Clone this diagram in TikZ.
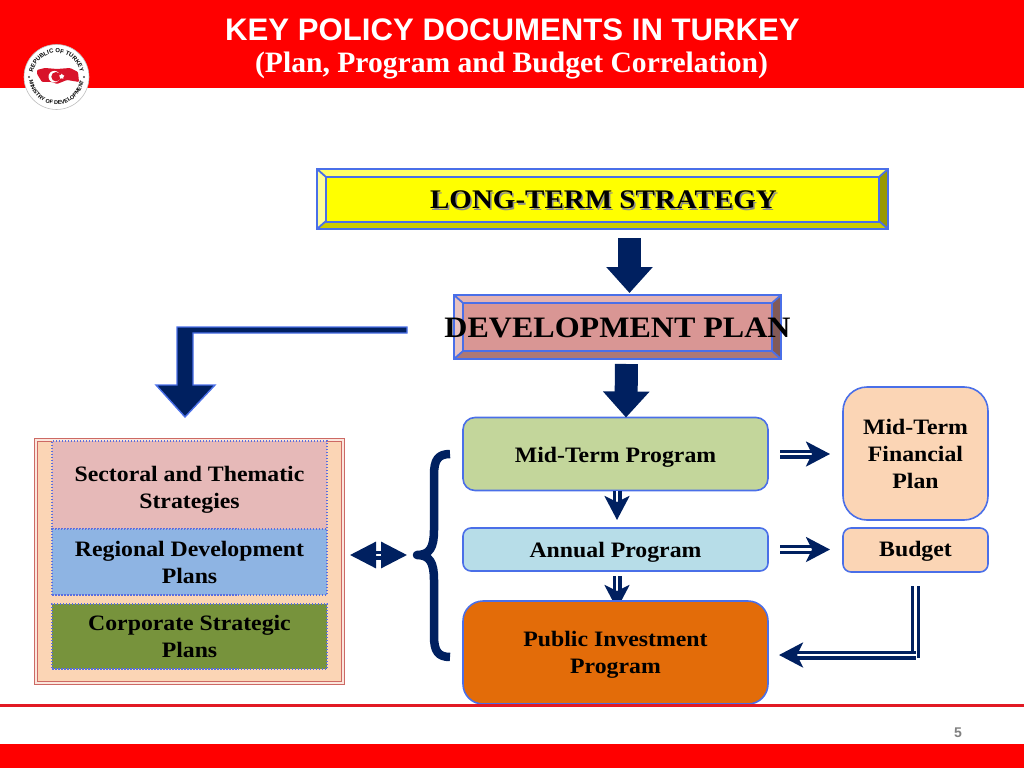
\documentclass[tikz,border=0pt]{standalone}
\usepackage{fontspec}
\setmainfont{Liberation Serif}
\setsansfont{Liberation Sans}
\newfontfamily\boxfont[FakeStretch=1.08]{Liberation Serif}
\usetikzlibrary{arrows.meta,shapes.geometric,decorations.text,backgrounds}

\newcommand{\pxu}{0.025cm}
\definecolor{navy}{HTML}{002060}
\definecolor{edgeblue}{HTML}{4A6FE8}
\definecolor{dotblue}{HTML}{5A6FE0}
\definecolor{topred}{HTML}{FF0000}
\definecolor{footred}{HTML}{E21923}
\definecolor{logored}{HTML}{D8132A}
\definecolor{ltsfill}{HTML}{FFFF00}
\definecolor{ltstop}{HTML}{FFFF66}
\definecolor{ltsleft}{HTML}{FFFF99}
\definecolor{ltsbottom}{HTML}{CCCC00}
\definecolor{ltsright}{HTML}{999900}
\definecolor{devfill}{HTML}{D99694}
\definecolor{devtop}{HTML}{E3B3B2}
\definecolor{devleft}{HTML}{E8C2C1}
\definecolor{devbottom}{HTML}{AE7876}
\definecolor{devright}{HTML}{825A58}
\definecolor{midfill}{HTML}{C3D69B}
\definecolor{annualfill}{HTML}{B7DDE8}
\definecolor{pipfill}{HTML}{E36C09}
\definecolor{peach}{HTML}{FBD5B5}
\definecolor{frameline}{HTML}{CD6964}
\definecolor{framegap}{HTML}{FBE6DC}
\definecolor{sectfill}{HTML}{E6B9B8}
\definecolor{regfill}{HTML}{8EB4E3}
\definecolor{corpfill}{HTML}{77933C}

\tikzset{
  boxtext/.style = {font=\boxfont\bfseries\fontsize{15.65}{19.2}\selectfont, align=center, inner sep=0pt, outer sep=0pt},
  textdrop/.style = {text depth=0pt, text height=#1pt},
  roundbox/.style = {boxtext, draw=edgeblue, line width=1.6*\pxu},
  stratbox/.style = {boxtext, draw=dotblue, line width=1.5*\pxu, dash pattern=on 1.5*\pxu off 1.5*\pxu, minimum width=275*\pxu},
  bevelface/.style = {draw=edgeblue, line width=2.3*\pxu, inner sep=0pt, outer sep=0pt},
  blockarrow/.style = {navy, line width=23*\pxu, -{Triangle[width=45*\pxu, length=26*\pxu]}},
  dblarrow/.style = {navy, line width=3.2*\pxu, double=white, double distance=2.6*\pxu},
  dbltip/.style = {-{Stealth[width=25*\pxu, length=24*\pxu, inset=6*\pxu]}}
}

% outer corners, then top, left, bottom and right face colours
\newcommand{\bevelframe}[8]{
  \fill [#5] (#1,#2) -- (#3,#2) -- ({#3-9},{#2+8}) -- ({#1+9},{#2+8}) -- cycle;
  \fill [#6] (#1,#2) -- (#1,#4) -- ({#1+9},{#4-8}) -- ({#1+9},{#2+8}) -- cycle;
  \fill [#7] (#1,#4) -- (#3,#4) -- ({#3-9},{#4-8}) -- ({#1+9},{#4-8}) -- cycle;
  \fill [#8] (#3,#2) -- (#3,#4) -- ({#3-9},{#4-8}) -- ({#3-9},{#2+8}) -- cycle;
  \draw [edgeblue, line width=2.8*\pxu] (#1,#2) rectangle (#3,#4);
  \draw [edgeblue, line width=1.8*\pxu] (#1,#2) -- ({#1+9},{#2+8}) (#3,#2) -- ({#3-9},{#2+8}) (#1,#4) -- ({#1+9},{#4-8}) (#3,#4) -- ({#3-9},{#4-8});
}

\begin{document}
\begin{tikzpicture}[x=\pxu, y=-\pxu]
\useasboundingbox (0,0) rectangle (1024,768);

\fill [topred] (0,0) rectangle (1024,88);
\fill [topred] (0,744) rectangle (1024,768);

\node (title) [white, font=\sffamily\bfseries\fontsize{22.15}{24}\selectfont, inner sep=0pt] at (512.5,30) {KEY POLICY DOCUMENTS IN TURKEY};
\node (subtitle) [white, font=\bfseries\fontsize{21.05}{24}\selectfont, inner sep=0pt] at (511.5,65) {(Plan, Program and Budget Correlation)};

% logo
\node (logo) [circle, fill=white, draw=black!25, line width=0.6*\pxu, minimum size=65*\pxu, inner sep=0pt] at (56.5,77) {};
\fill [logored, rounded corners=1*\pxu] (37,70) -- (45,68) -- (57,69) -- (70,68) -- (78,72) -- (79,82) -- (67,80) -- (57,84) -- (52,82) -- (42,82) -- (37,74) -- cycle;
\fill [white] (54.3,76.7) circle (5.8);
\fill [logored] (56,76.7) circle (4.7);
\node (logostar) [star, star points=5, fill=white, minimum size=5.5*\pxu, inner sep=0pt] at (61.7,76.5) {};
\path [decorate, decoration={text along path, text align=center, text={|\sffamily\bfseries\fontsize{4.2}{5}\selectfont|REPUBLIC OF TURKEY}}] (32.5,77) arc [start angle=180, delta angle=180, radius=24];
\path [decorate, decoration={text along path, text align=center, text={|\sffamily\bfseries\fontsize{3.9}{5}\selectfont|MINISTRY OF DEVELOPMENT}}] (29,77) arc [start angle=180, delta angle=-180, radius=27.5];
\fill [black!70] (29,77) circle (1.2) (84,77) circle (1.2);

% top of the chart
\bevelframe{317}{169}{888}{229}{ltstop}{ltsleft}{ltsbottom}{ltsright}
\node (lts) [bevelface, fill=ltsfill, minimum width=553*\pxu, minimum height=45*\pxu] at (602.5,199.5) {};
\node (ltsshade) [black!45, font=\boxfont\bfseries\fontsize{19.1}{24}\selectfont, inner sep=0pt] at (605,201.5) {LONG-TERM STRATEGY};
\node (ltstext) [font=\boxfont\bfseries\fontsize{19.1}{24}\selectfont, inner sep=0pt] at (603.5,200) {LONG-TERM STRATEGY};

\bevelframe{454}{295}{781}{359}{devtop}{devleft}{devbottom}{devright}
\node (dev) [bevelface, fill=devfill, minimum width=309*\pxu, minimum height=48*\pxu] at (617.5,327) {};
\node (devtext) [font=\boxfont\bfseries\fontsize{21.1}{26}\selectfont, inner sep=0pt] at (617.5,328) {DEVELOPMENT PLAN};

% boxes on the right
\node (midterm) [roundbox, textdrop=11.8, fill=midfill, rounded corners=12*\pxu, minimum width=305*\pxu, minimum height=73*\pxu] at (615.5,454) {Mid-Term Program};
\node (annual) [roundbox, textdrop=11.1, fill=annualfill, rounded corners=8*\pxu, minimum width=305*\pxu, minimum height=43*\pxu] at (615.5,549.5) {Annual Program};
\node (pip) [roundbox, textdrop=29.6, fill=pipfill, rounded corners=20*\pxu, minimum width=305*\pxu, minimum height=103*\pxu] at (615.5,652.5) {Public Investment\\Program};
\node (mtfp) [roundbox, textdrop=50.1, fill=peach, rounded corners=24*\pxu, minimum width=145*\pxu, minimum height=133*\pxu] at (915.5,453.5) {Mid-Term\\Financial\\Plan};
\node (budget) [roundbox, textdrop=9.5, fill=peach, rounded corners=8*\pxu, minimum width=145*\pxu, minimum height=44*\pxu] at (915.5,550) {Budget};

% boxes on the left
\node (frame) [draw=frameline, fill=peach, line width=1*\pxu, double=framegap, double distance=1.6*\pxu, minimum width=307*\pxu, minimum height=243*\pxu, inner sep=0pt, outer sep=0pt] at (189.5,561.5) {};
\node (sectoral) [stratbox, textdrop=33.1, fill=sectfill, minimum height=88*\pxu] at (189.5,485) {Sectoral and Thematic\\Strategies};
\node (regional) [stratbox, textdrop=30.3, fill=regfill, minimum height=66*\pxu] at (189.5,562) {Regional Development\\Plans};
\node (corporate) [stratbox, textdrop=30.2, fill=corpfill, minimum height=65*\pxu] at (189.5,636.5) {Corporate Strategic\\Plans};

% connectors
\draw [blockarrow, shorten <=16*\pxu, shorten >=10*\pxu] ([xshift=27*\pxu]lts.south) -- ([xshift=12*\pxu]dev.north);
\draw [blockarrow, shorten <=13*\pxu] ([xshift=9*\pxu]dev.south) -- ([xshift=10.5*\pxu]midterm.north);

\coordinate (bendstart) at (407,330);
\draw [edgeblue, fill=navy, line width=1.4*\pxu, line join=miter] (bendstart) ++(0,-3) -- ++(-230,0) -- ++(0,58) -- ++(-21,0) -- ++(29,32) -- ++(30,-32) -- ++(-22,0) -- ++(0,-52) -- ++(214,0) -- cycle;

\draw [dblarrow, dbltip, shorten <=12*\pxu, shorten >=13*\pxu] (midterm.east) -- (mtfp.west |- midterm.east);
\draw [dblarrow, dbltip, shorten <=12*\pxu, shorten >=13*\pxu] (annual.east) -- (budget.west |- annual.east);
\draw [dblarrow, dbltip, shorten >=8*\pxu] ([xshift=1.5*\pxu]midterm.south) -- ([xshift=1.5*\pxu]annual.north);
\begin{scope}[on background layer]
\draw [dblarrow, dbltip, shorten <=5*\pxu, shorten >=-8*\pxu] ([xshift=1.5*\pxu]annual.south) -- ([xshift=1.5*\pxu]pip.north);
\end{scope}

\coordinate (budgetcorner) at (915.5,655);
\draw [dblarrow, shorten <=14*\pxu, shorten >=-3*\pxu] (budget.south) -- (budgetcorner);
\draw [dblarrow, dbltip, shorten >=11*\pxu] (budgetcorner) -- (pip.east |- budgetcorner);

\coordinate (bracetip) at (417,555);
\draw [navy, line width=8.5*\pxu, line join=round] (450,454) .. controls (438,454) and (434,460) .. (434,475) -- (434,530) .. controls (434,547) and (430,555) .. (bracetip) .. controls (430,555) and (434,563) .. (434,580) -- (434,636) .. controls (434,651) and (438,657) .. (450,657);
\draw [dblarrow, {Triangle[width=26*\pxu, length=26*\pxu]}-{Triangle[width=26*\pxu, length=26*\pxu]}, shorten <=7*\pxu, shorten >=10*\pxu] (frame.east |- bracetip) -- (bracetip);

% footer
\fill [footred] (0,704) rectangle (1024,707);
\node (pagenum) [black!50, font=\sffamily\bfseries\fontsize{10}{12}\selectfont, inner sep=0pt] at (958,733) {5};
\end{tikzpicture}
\end{document}
